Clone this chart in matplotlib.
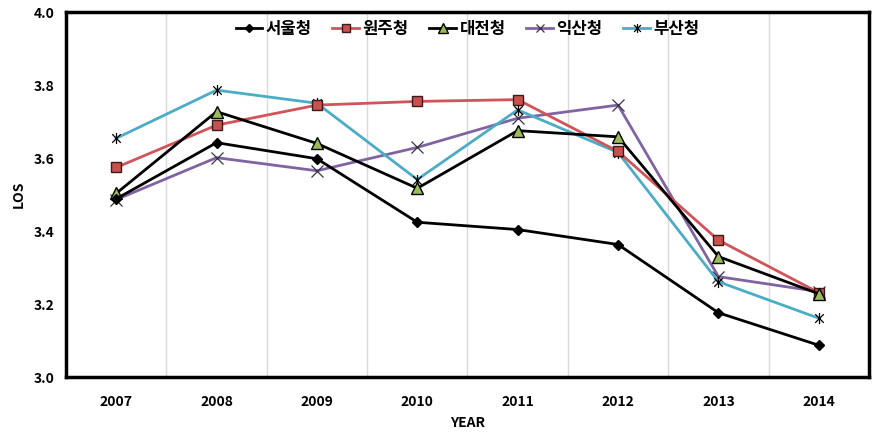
import matplotlib
matplotlib.use("Agg")
import matplotlib.pyplot as plt
from matplotlib.path import Path
import numpy as np

plt.rcParams['font.family'] = ['Noto Sans CJK KR', 'DejaVu Sans']

years = ['2007', '2008', '2009', '2010', '2011', '2012', '2013', '2014']
seoul = [3.488, 3.642, 3.598, 3.424, 3.404, 3.363, 3.176, 3.087]
wonju = [3.574, 3.690, 3.745, 3.755, 3.760, 3.618, 3.375, 3.231]
daejeon = [3.503, 3.727, 3.640, 3.517, 3.675, 3.658, 3.330, 3.228]
iksan = [3.486, 3.601, 3.565, 3.629, 3.709, 3.745, 3.275, 3.234]
busan = [3.654, 3.786, 3.750, 3.541, 3.732, 3.615, 3.261, 3.161]
names = ['서울청', '원주청', '대전청', '익산청', '부산청']
yticks = [3.0, 3.2, 3.4, 3.6, 3.8, 4.0]

# asterisk marker: X plus vertical line
star = Path([(-1, -1), (1, 1), (-1, 1), (1, -1), (0, -1.3), (0, 1.3)],
            [Path.MOVETO, Path.LINETO, Path.MOVETO, Path.LINETO, Path.MOVETO, Path.LINETO])

fig = plt.figure(figsize=(8.87, 4.32), dpi=100)
ax = fig.add_axes([0.0744, 0.1273, 0.9053, 0.8449])
x = np.arange(len(years))

ax.plot(x, seoul, color='black', lw=2, marker='D', ms=5.5, mfc='black', mec='black', label=names[0], zorder=5)
ax.plot(x, wonju, color='#D0545A', lw=2, marker='s', ms=7.5, mfc='#C8504D', mec='#3a1a1a', mew=1, label=names[1], zorder=4)
ax.plot(x, daejeon, color='black', lw=2, marker='^', ms=8.5, mfc='#9BBB59', mec='black', mew=1, label=names[2], zorder=4)
ax.plot(x, iksan, color='#8064A2', lw=2, marker='x', ms=8, mec='#333344', mew=0.9, label=names[3], zorder=3)
ax.plot(x, busan, color='#4BACC6', lw=2, marker=star, ms=8, mfc='none', mec='black', mew=0.9, label=names[4], zorder=3)

ax.set_xlim(-0.5, len(years) - 0.5)
ax.set_ylim(3.0, 4.0)
ax.set_xticks(x)
ax.set_xticklabels(years, fontweight='bold', fontsize=10)
ax.set_yticks(yticks)
ax.set_yticklabels([f'{v:.1f}' for v in yticks], fontweight='bold', fontsize=10)
ax.tick_params(axis='x', length=0, pad=13)
ax.tick_params(axis='y', length=0, pad=8)
for b in np.arange(0.5, len(years) - 1, 1):
    ax.axvline(b, color='#d9d9d9', lw=1, zorder=0)
for s in ax.spines.values():
    s.set_linewidth(2.5)
    s.set_color('black')
ax.set_xlabel('YEAR', fontweight='bold', fontsize=10, labelpad=5)
ax.set_ylabel('LOS', fontweight='bold', fontsize=10, labelpad=6)

leg = ax.legend(loc='upper center', ncol=5, frameon=False,
                handlelength=1.6, columnspacing=1.25, handletextpad=0.2,
                markerscale=0.8,
                bbox_to_anchor=(0.5, 1.02), prop={'weight': 'bold', 'size': 12})

fig.savefig('out.png', dpi=100)
